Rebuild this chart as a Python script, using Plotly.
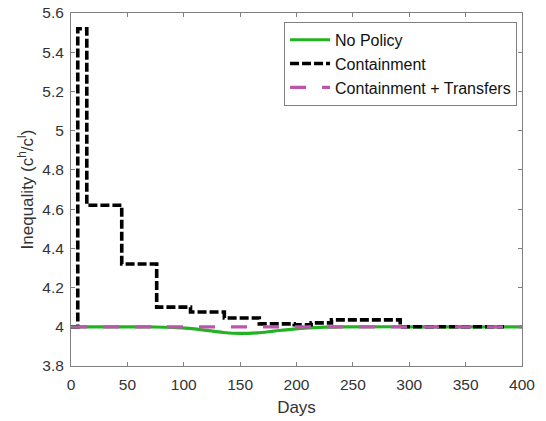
import plotly.graph_objects as go

# ---- data ----
nopolicy_days = [0, 40, 70, 90, 105, 120, 135, 150, 165, 180, 195, 210, 225, 240, 300, 400]
nopolicy_vals = [4.0, 4.0, 3.999, 3.997, 3.992, 3.982, 3.971, 3.966, 3.969, 3.978, 3.987, 3.994, 3.998, 4.0, 4.0, 4.0]

contain_days = [0, 6, 14, 45, 76, 106, 136, 167, 198, 213, 231, 292, 384]
contain_vals = [4.0, 5.52, 4.62, 4.32, 4.10, 4.075, 4.045, 4.015, 4.01, 4.02, 4.035, 4.0, 4.0]

transfer_days = [0, 400]
transfer_vals = [4.0, 4.0]

x_ticks = [0, 50, 100, 150, 200, 250, 300, 350, 400]
y_ticks = [3.8, 4.0, 4.2, 4.4, 4.6, 4.8, 5.0, 5.2, 5.4, 5.6]
y_ticktext = ["3.8", "4", "4.2", "4.4", "4.6", "4.8", "5", "5.2", "5.4", "5.6"]

FONT = "Arial, Liberation Sans, Helvetica, sans-serif"

fig = go.Figure()
fig.add_trace(go.Scatter(x=nopolicy_days, y=nopolicy_vals, mode="lines", name="No Policy",
                         line=dict(color="#22b322", width=3.2, shape="spline", smoothing=1.0)))
fig.add_trace(go.Scatter(x=contain_days, y=contain_vals, mode="lines", name="Containment",
                         line=dict(color="black", width=3.6, shape="hv", dash="9px,3px")))
fig.add_trace(go.Scatter(x=transfer_days, y=transfer_vals, mode="lines", name="Containment + Transfers",
                         line=dict(color="#bd55ad", width=3.2, dash="16px,16px")))

axis_common = dict(showline=True, linecolor="#808080", linewidth=1, mirror="ticks",
                   ticks="inside", ticklen=4, tickcolor="#808080", showgrid=False, zeroline=False,
                   automargin=False,
                   tickfont=dict(family=FONT, size=15.5, color="#333333"))

fig.update_xaxes(range=[0, 400], tickvals=x_ticks, ticklabelstandoff=4,
                 title=dict(text="Days", font=dict(family=FONT, size=17, color="#333333"), standoff=9),
                 **axis_common)
fig.update_yaxes(range=[3.8, 5.6], tickvals=y_ticks, ticktext=y_ticktext, ticklabelstandoff=3,
                 title=dict(text="Inequality (c<sup>h</sup>/c<sup>l</sup>)", font=dict(family=FONT, size=17, color="#333333"), standoff=4),
                 **axis_common)

fig.update_layout(
    width=546, height=421,
    margin=dict(l=71, r=24, t=13, b=55),
    paper_bgcolor="white", plot_bgcolor="white",
    font=dict(family=FONT, color="#222222"),
    legend=dict(x=0.989, y=0.975, xanchor="right", yanchor="top",
                bordercolor="#808080", borderwidth=1, bgcolor="white",
                font=dict(family=FONT, size=16, color="#111111"),
                tracegroupgap=0, itemwidth=40),
)

fig.write_html("out.html")
